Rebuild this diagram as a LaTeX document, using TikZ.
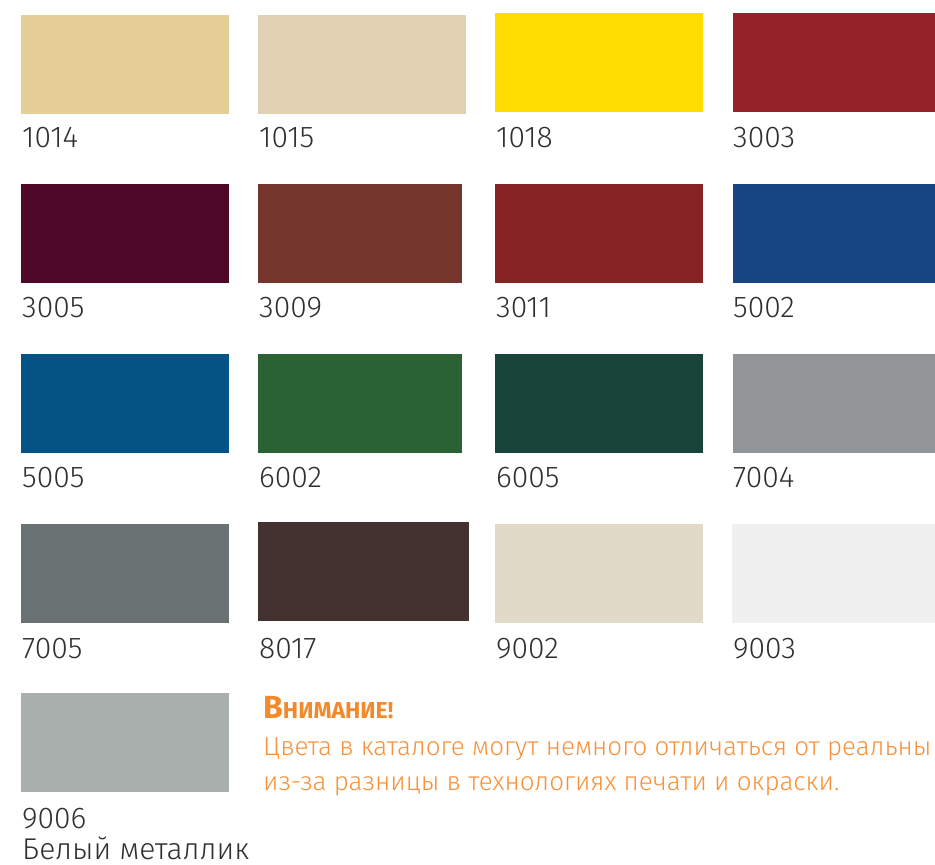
\documentclass[tikz,border=0pt]{standalone}
\usepackage{fontspec}
\setmainfont{Fira Sans}
\newfontfamily\lightfont{Fira Sans Light}
\newfontfamily\notefont{Fira Sans Light}
\definecolor{labelgray}{HTML}{303030}
\definecolor{noteorange}{HTML}{F7923A}
\definecolor{headorange}{HTML}{F28A2C}
\definecolor{cA}{HTML}{E5CF97}
\definecolor{cB}{HTML}{E1D2B4}
\definecolor{cC}{HTML}{FFDD00}
\definecolor{cD}{HTML}{952129}
\definecolor{cE}{HTML}{4F0828}
\definecolor{cF}{HTML}{74352C}
\definecolor{cG}{HTML}{862323}
\definecolor{cH}{HTML}{154582}
\definecolor{cI}{HTML}{035384}
\definecolor{cJ}{HTML}{2B6234}
\definecolor{cK}{HTML}{18443A}
\definecolor{cL}{HTML}{929597}
\definecolor{cM}{HTML}{6A7172}
\definecolor{cN}{HTML}{43322F}
\definecolor{cO}{HTML}{E1DAC7}
\definecolor{cP}{HTML}{F0F0F0}
\definecolor{cQ}{HTML}{A9AFAC}
\begin{document}
\begin{tikzpicture}[x=1pt,y=-1pt,
  code/.style={anchor=base west, inner sep=0pt, text=labelgray, font=\lightfont\fontsize{30}{36}\selectfont},
  note/.style={anchor=base west, inner sep=0pt, text=noteorange, font=\notefont\fontsize{26}{30}\selectfont},
  head/.style={anchor=base west, inner sep=0pt, text=headorange, font=\bfseries}]
\useasboundingbox (0,0) rectangle (935,865);
\clip (0,0) rectangle (935,865);
% row 1
\fill[cA] (21,15) rectangle (229,114);
\fill[cB] (258,15) rectangle (466,114);
\fill[cC] (495,13) rectangle (703,112);
\fill[cD] (733,13) rectangle (935,112);
\node[code] (l1014) at (22,147) {1014};
\node[code] (l1015) at (259,147) {1015};
\node[code] (l1018) at (496,147) {1018};
\node[code] (l3003) at (733,147) {3003};
% row 2
\fill[cE] (21,184) rectangle (229,283);
\fill[cF] (258,184) rectangle (462,283);
\fill[cG] (495,184) rectangle (703,283);
\fill[cH] (733,184) rectangle (935,283);
\node[code] (l3005) at (22,317) {3005};
\node[code] (l3009) at (259,317) {3009};
\node[code] (l3011) at (496,317) {3011};
\node[code] (l5002) at (733,317) {5002};
% row 3
\fill[cI] (21,354) rectangle (229,453);
\fill[cJ] (258,354) rectangle (462,453);
\fill[cK] (495,354) rectangle (703,453);
\fill[cL] (733,354) rectangle (935,453);
\node[code] (l5005) at (22,487) {5005};
\node[code] (l6002) at (259,487) {6002};
\node[code] (l6005) at (496,487) {6005};
\node[code] (l7004) at (733,487) {7004};
% row 4
\fill[cM] (21,524) rectangle (229,623);
\fill[cN] (258,522) rectangle (469,621);
\fill[cO] (495,524) rectangle (703,623);
\fill[cP] (732,524) rectangle (935,623);
\node[code] (l7005) at (22,658) {7005};
\node[code] (l8017) at (259,658) {8017};
\node[code] (l9002) at (496,658) {9002};
\node[code] (l9003) at (733,658) {9003};
% row 5
\fill[cQ] (21,693) rectangle (229,792);
\node[code] (l9006) at (22,828) {9006};
\node[code] (lwhite) at (22,859) {Белый металлик};
% note
\node[head] (attn) at (263,718) {{\fontsize{32}{36}\selectfont В}{\fontsize{23}{28}\selectfont НИМАНИЕ!}};
\node[note] (note1) at (263,755) {Цвета в каталоге могут немного отличаться от реальны};
\node[note] (note2) at (263,790) {из-за разницы в технологиях печати и окраски.};
\end{tikzpicture}
\end{document}
